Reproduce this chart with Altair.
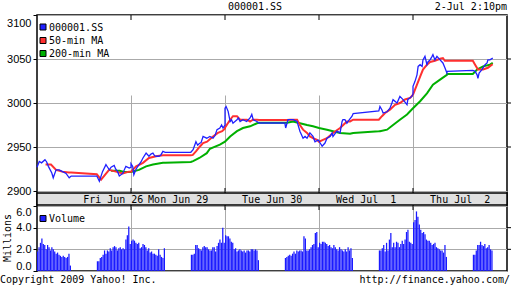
import altair as alt
import pandas as pd

# ---------------- data ----------------
DAYS = ["06-26", "06-29", "06-30", "07-01", "07-02"]
DAY_LABELS = ["Fri Jun 26", "Mon Jun 29", "Tue Jun 30", "Wed Jul\u00a0 1", "Thu Jul\u00a0 2"]
DAY_LABEL_AT = ["06-26 12:12", "06-29 10:30", "06-30 10:30", "07-01 10:30", "07-02 10:30"]
DAY_BOUNDS = ["06-29 09:30", "06-30 09:30", "07-01 09:30", "07-02 09:30"]

PRICE_TICKS = [2900, 2950, 3000, 3050, 3100]
VOL_TICKS = [0, 2, 4, 6]

# 000001.SS price
ss_time = [
    "06-26 09:30", "06-26 09:38", "06-26 09:46", "06-26 09:58", "06-26 10:04", "06-26 10:10",
    "06-26 10:22", "06-26 10:27", "06-26 10:37", "06-26 10:48", "06-26 11:00", "06-26 11:12",
    "06-26 11:23", "06-26 11:30", "06-26 13:00", "06-26 13:09", "06-26 13:20", "06-26 13:32",
    "06-26 13:38", "06-26 13:44", "06-26 13:50", "06-26 14:01", "06-26 14:06", "06-26 14:13",
    "06-26 14:19", "06-26 14:31", "06-26 14:42", "06-26 14:54", "06-26 15:00",
    "06-29 09:30", "06-29 09:36", "06-29 09:40", "06-29 09:48", "06-29 09:58", "06-29 10:05",
    "06-29 10:12", "06-29 10:23", "06-29 10:33", "06-29 10:40", "06-29 10:47", "06-29 10:53",
    "06-29 10:58", "06-29 11:08", "06-29 11:15", "06-29 11:22", "06-29 11:30", "06-29 13:00",
    "06-29 13:08", "06-29 13:18", "06-29 13:24", "06-29 13:30", "06-29 13:36", "06-29 13:43",
    "06-29 13:50", "06-29 13:56", "06-29 14:07", "06-29 14:18", "06-29 14:25", "06-29 14:32",
    "06-29 14:42", "06-29 14:48", "06-29 14:53", "06-29 15:00",
    "06-30 09:30", "06-30 09:34", "06-30 09:41", "06-30 09:48", "06-30 09:53", "06-30 09:58",
    "06-30 10:12", "06-30 10:17", "06-30 10:23", "06-30 10:33", "06-30 10:46", "06-30 10:58",
    "06-30 11:04", "06-30 11:09", "06-30 11:22", "06-30 11:30", "06-30 13:00", "06-30 13:03",
    "06-30 13:11", "06-30 13:29", "06-30 13:43", "06-30 13:53", "06-30 14:04", "06-30 14:11",
    "06-30 14:18", "06-30 14:28", "06-30 14:39", "06-30 14:46", "06-30 14:57", "06-30 15:00",
    "07-01 09:30", "07-01 09:34", "07-01 09:41", "07-01 09:51", "07-01 09:58", "07-01 10:09",
    "07-01 10:16", "07-01 10:19", "07-01 10:33", "07-01 10:44", "07-01 10:51", "07-01 10:54",
    "07-01 11:01", "07-01 11:08", "07-01 11:12", "07-01 11:26", "07-01 11:30", "07-01 13:00",
    "07-01 13:04", "07-01 13:11", "07-01 13:15", "07-01 13:29", "07-01 13:39", "07-01 13:46",
    "07-01 13:50", "07-01 14:04", "07-01 14:14", "07-01 14:25", "07-01 14:39", "07-01 14:42",
    "07-01 14:56", "07-01 15:00",
    "07-02 09:30", "07-02 09:37", "07-02 09:44", "07-02 09:48", "07-02 09:55", "07-02 10:02",
    "07-02 10:05", "07-02 10:12", "07-02 10:19", "07-02 10:23", "07-02 10:30", "07-02 10:37",
    "07-02 10:40", "07-02 10:47", "07-02 10:54", "07-02 11:05", "07-02 11:15", "07-02 11:22",
    "07-02 11:29", "07-02 11:30", "07-02 13:00", "07-02 13:08", "07-02 13:15", "07-02 13:18",
    "07-02 13:22", "07-02 13:32", "07-02 13:43", "07-02 13:50", "07-02 13:53", "07-02 14:00",
    "07-02 14:10",
]
ss_val = [
    2927, 2933.6, 2932, 2935.6, 2933, 2928,
    2920.5, 2915, 2924, 2924, 2922, 2920,
    2915, 2917, 2917, 2911, 2922, 2930,
    2927, 2924, 2927, 2929, 2925, 2922,
    2917, 2920, 2928, 2926, 2927,
    2931, 2928, 2918.5, 2925, 2930, 2933,
    2937.5, 2943, 2939.5, 2942, 2943, 2940,
    2939.5, 2939.5, 2941, 2945, 2944, 2944,
    2947, 2956, 2952, 2954, 2955, 2962,
    2961, 2960, 2962, 2960, 2963, 2969.7,
    2971.6, 2975, 2971.6, 2975,
    2994, 2996, 2990.5, 2979, 2981, 2977,
    2981, 2983, 2979, 2981, 2979, 2983,
    2987, 2981, 2979, 2977.3, 2977.3, 2971.6,
    2981, 2981, 2979, 2968, 2960, 2962,
    2960, 2966, 2962, 2956, 2958, 2957,
    2957, 2954.5, 2951, 2954.5, 2960, 2962,
    2966, 2962, 2968, 2966, 2979, 2981,
    2981, 2977, 2979, 2985, 2988, 2991,
    2996, 2992, 2988.6, 2990, 2994, 3000,
    3003.8, 3000, 3007.5, 3003.8, 2998, 3004,
    3007.5, 3010,
    3019, 3024.6, 3032, 3041.6, 3043.5, 3041.6,
    3049, 3053, 3043.5, 3047, 3049, 3053,
    3055, 3049, 3053, 3049, 3045.5, 3040,
    3034, 3036, 3037, 3036, 3032, 3028,
    3034, 3038, 3043.5, 3045.5, 3049, 3049,
    3051,
]

# 50-min moving average
ma50_time = [
    "06-26 10:00", "06-26 10:19", "06-26 10:37", "06-26 10:58", "06-26 11:22", "06-26 11:30",
    "06-26 13:00", "06-26 13:15", "06-26 13:43", "06-26 14:07", "06-26 14:31", "06-26 14:53",
    "06-26 15:00",
    "06-29 09:30", "06-29 09:48", "06-29 10:12", "06-29 10:33", "06-29 10:58", "06-29 11:22",
    "06-29 11:30", "06-29 13:00", "06-29 13:07", "06-29 13:18", "06-29 13:32", "06-29 13:43",
    "06-29 13:57", "06-29 14:18", "06-29 14:35", "06-29 14:50", "06-29 15:00",
    "06-30 09:30", "06-30 09:48", "06-30 09:58", "06-30 10:12", "06-30 10:23", "06-30 10:47",
    "06-30 10:58", "06-30 11:08", "06-30 11:22", "06-30 11:30", "06-30 13:00", "06-30 13:08",
    "06-30 13:18", "06-30 13:43", "06-30 13:53", "06-30 14:04", "06-30 14:18", "06-30 14:28",
    "06-30 14:39", "06-30 14:53", "06-30 15:00",
    "07-01 09:30", "07-01 09:44", "07-01 09:58", "07-01 10:19", "07-01 10:44", "07-01 11:08",
    "07-01 11:19", "07-01 11:30", "07-01 13:00", "07-01 13:11", "07-01 13:22", "07-01 13:39",
    "07-01 13:57", "07-01 14:14", "07-01 14:32", "07-01 14:50", "07-01 15:00",
    "07-02 09:30", "07-02 09:44", "07-02 09:55", "07-02 10:05", "07-02 10:19", "07-02 10:30",
    "07-02 10:47", "07-02 11:05", "07-02 11:15", "07-02 11:22", "07-02 11:30", "07-02 13:00",
    "07-02 13:08", "07-02 13:18", "07-02 13:36", "07-02 13:53", "07-02 14:07", "07-02 14:10",
]
ma50_val = [
    2930, 2930, 2924, 2922, 2921, 2921,
    2919, 2913, 2924, 2922, 2920, 2922,
    2922,
    2922, 2928, 2932, 2937.5, 2939.5, 2940.5,
    2940.5, 2940.5, 2941, 2945, 2950.6, 2954.5,
    2956, 2962, 2966, 2968, 2971,
    2972, 2981, 2985, 2985, 2981, 2981,
    2979, 2981, 2981, 2980.7, 2980.7, 2980.7,
    2981, 2981, 2975, 2969.7, 2966, 2962,
    2960, 2958, 2956,
    2956, 2958, 2960, 2966, 2971.6, 2979,
    2979, 2981, 2981, 2985, 2988.6, 2992.4,
    2998, 3000, 3004, 3005.7, 3009.4,
    3009.4, 3020.8, 3030, 3038, 3043.5, 3046.6,
    3048, 3050.3, 3051, 3048, 3048, 3048,
    3043.5, 3038, 3038, 3040, 3043.5, 3044,
]

# 200-min moving average
ma200_time = [
    "06-26 13:50", "06-26 14:20", "06-26 14:35", "06-26 15:00",
    "06-29 09:30", "06-29 09:58", "06-29 10:23", "06-29 10:47", "06-29 11:22", "06-29 11:30",
    "06-29 13:00", "06-29 13:08", "06-29 13:30", "06-29 13:56", "06-29 14:07", "06-29 14:42",
    "06-29 15:00",
    "06-30 09:48", "06-30 10:12", "06-30 10:33", "06-30 10:58", "06-30 11:22", "06-30 11:30",
    "06-30 13:00", "06-30 13:08", "06-30 13:29", "06-30 13:53", "06-30 14:18", "06-30 14:39",
    "06-30 15:00",
    "07-01 09:58", "07-01 10:19", "07-01 10:44", "07-01 11:19", "07-01 11:30", "07-01 13:00",
    "07-01 13:04", "07-01 13:29", "07-01 13:50", "07-01 14:14", "07-01 14:39", "07-01 15:00",
    "07-02 09:55", "07-02 10:19", "07-02 10:40", "07-02 11:05", "07-02 11:29", "07-02 11:30",
    "07-02 13:00", "07-02 13:15", "07-02 13:36", "07-02 14:00", "07-02 14:10",
]
ma200_val = [
    2923, 2923, 2921.5, 2921.5,
    2921.5, 2924, 2928, 2930, 2932, 2932,
    2933, 2934, 2937.5, 2943, 2948, 2952.6,
    2956,
    2962, 2968, 2971.6, 2973.5, 2977, 2977.6,
    2977.6, 2977.6, 2979, 2977, 2975, 2973.5,
    2971.6,
    2969.7, 2968, 2966, 2965, 2966, 2967.8,
    2968, 2969.7, 2975, 2981, 2987, 2994,
    3002, 3011, 3020.8, 3026.5, 3032, 3033,
    3033, 3038, 3041.6, 3043.5, 3045.5,
]

# Volume (millions), 5-minute bars: 24 in the morning, 24 in the afternoon
vol_0626 = [1.8, 2.2, 2.6, 3.0, 2.5, 2.4, 2.0, 2.4, 2.2, 1.9, 2.2, 2.0, 1.8, 1.6, 1.7, 1.5,
            1.4, 1.3, 1.4, 1.3, 1.2, 1.3, 1.6, 0.5,
            0.9, 0.9, 1.2, 1.3, 1.5, 1.9, 1.6, 1.9, 1.8, 2.1, 1.9, 2.2, 2.3, 2.2, 1.9, 2.1,
            2.2, 2.0, 2.1, 2.0, 2.9, 3.3, 4.1, 2.5]
vol_0629 = [2.8, 2.9, 2.8, 2.6, 2.5, 2.6, 2.1, 2.2, 2.5, 2.4, 2.2, 1.9, 2.1, 1.7, 1.8, 1.6,
            1.6, 1.5, 1.4, 2.0, 1.5, 1.3, 1.2, 2.1,
            1.5, 1.5, 1.6, 2.4, 2.4, 2.1, 2.0, 1.9, 2.2, 2.3, 2.2, 2.2, 2.0, 1.9, 1.9, 2.2,
            2.2, 1.8, 2.3, 2.6, 2.9, 2.6, 4.0, 2.6]
vol_0630 = [3.3, 3.2, 3.2, 3.0, 2.7, 2.6, 2.0, 2.1, 1.8, 1.9, 2.0, 1.9, 1.8, 1.9, 1.7, 1.9,
            1.9, 1.8, 2.0, 2.0, 1.9, 2.0, 1.9, 1.0,
            1.2, 1.3, 1.4, 1.5, 1.4, 1.6, 1.8, 1.6, 1.9, 1.8, 1.9, 1.9, 1.8, 3.2, 3.0, 1.9,
            1.9, 2.0, 2.2, 2.4, 2.5, 3.5, 3.6, 2.2]
vol_0701 = [2.6, 2.5, 2.7, 2.7, 2.6, 2.5, 2.3, 2.4, 2.2, 2.1, 2.4, 2.2, 2.0, 1.9, 2.2, 2.0,
            1.9, 1.8, 2.0, 1.8, 2.2, 1.9, 2.1, 1.2,
            1.9, 1.9, 2.1, 2.4, 1.8, 2.6, 1.9, 2.9, 3.5, 2.2, 2.6, 2.2, 2.7, 2.6, 2.2, 2.5,
            2.8, 2.5, 2.9, 3.6, 3.8, 2.7, 2.6, 2.5]
vol_0702 = [4.5, 4.7, 5.5, 5.0, 4.3, 3.8, 3.5, 3.6, 3.4, 2.9, 2.8, 2.8, 2.6, 2.4, 2.5, 2.6,
            2.2, 2.1, 2.0, 1.9, 1.9, 1.7, 2.4, 1.3,
            1.5, 1.5, 1.9, 2.4, 2.4, 2.7, 2.4, 2.3, 2.5, 2.1, 2.2, 2.4, 2.0, 1.9]
VOLUMES = [vol_0626, vol_0629, vol_0630, vol_0701, vol_0702]

# ---------------- helpers ----------------
DAY_SPAN = 330  # 09:30 -> 15:00 in minutes


def to_pos(stamp):
    d, t = stamp.split()
    h, m = (int(p) for p in t.split(":"))
    return DAYS.index(d) * DAY_SPAN + h * 60 + m - 570


def series(times, vals):
    return pd.DataFrame({"pos": [to_pos(s) for s in times], "v": vals})


vol_rows = []
bar_ends = [9 * 60 + 35 + 5 * i for i in range(24)] + [13 * 60 + 5 + 5 * i for i in range(24)]
for di, vols in enumerate(VOLUMES):
    for end, v in zip(bar_ends, vols):
        p = di * DAY_SPAN + end - 570
        vol_rows.append({"p0": p - 5, "p1": p - 0.6, "vol": v})
vol_df = pd.DataFrame(vol_rows)

bounds_df = pd.DataFrame({"pos": [to_pos(s) for s in DAY_BOUNDS]})
labels_df = pd.DataFrame({"pos": [to_pos(s) for s in DAY_LABEL_AT], "label": DAY_LABELS})

# ---------------- styles ----------------
W, H = 470, 256
MONO = "DejaVu Sans Mono"
SANS = "Liberation Sans"
BLUE, RED, GREEN = "#2020ff", "#ff3030", "#00b000"
GRID = "#aaaaaa"

x_scale = alt.Scale(domain=[0, 5 * DAY_SPAN], nice=False, zero=False)
x_axis = alt.Axis(values=[to_pos(s) for s in DAY_BOUNDS], grid=True, gridColor=GRID,
                  labels=False, ticks=False, domain=False, title=None)
price_scale = alt.Scale(domain=[2900, 3100], range=[176, 0], nice=False, zero=False)
price_axis = alt.Axis(orient="left", values=PRICE_TICKS, format="d", grid=True, gridColor=GRID,
                      domain=False, tickColor="black", tickSize=4, labelPadding=2,
                      labelFont=SANS, labelFontSize=11, labelColor="black", title=None,
                      labelOffset={"condition": {"test": "datum.value == 3100", "value": 8},
                                   "value": 0})
vol_scale = alt.Scale(domain=[0, 6], range=[256, 191], nice=False)
vol_axis = alt.Axis(orient="left", values=VOL_TICKS, format=".1f", grid=True, gridColor=GRID,
                    domain=False, tickColor="black", tickSize=4, labelPadding=2,
                    labelFont=SANS, labelFontSize=11, labelColor="black", labelFlush=True,
                    title=None)


def X(field="pos"):
    return alt.X(f"{field}:Q", scale=x_scale, axis=x_axis)


def Yp(field="v"):
    return alt.Y(f"{field}:Q", scale=price_scale, axis=price_axis)


def line(times, vals, color, width):
    return alt.Chart(series(times, vals)).mark_line(
        color=color, strokeWidth=width, interpolate="linear").encode(x=X(), y=Yp())


one = pd.DataFrame({"k": [0]})

price_right_ticks = alt.Chart(pd.DataFrame({"v": PRICE_TICKS[1:-1]})).mark_rule(
    color="black").encode(y=Yp(), x=alt.value(W), x2=alt.value(W + 4))

price_layer = alt.layer(
    line(ma200_time, ma200_val, GREEN, 2),
    line(ma50_time, ma50_val, RED, 2),
    line(ss_time, ss_val, BLUE, 1.3),
    price_right_ticks,
)

bars = alt.Chart(vol_df).mark_rect(color="#1a1aff").encode(
    x=X("p0"), x2="p1:Q",
    y=alt.Y("vol:Q", scale=vol_scale, axis=vol_axis),
    y2=alt.datum(0),
)
vol_right_ticks = alt.Chart(pd.DataFrame({"vol": [2, 4]})).mark_rule(color="black").encode(
    y=alt.Y("vol:Q", scale=vol_scale, axis=vol_axis), x=alt.value(W), x2=alt.value(W + 4))
vol_layer = alt.layer(bars, vol_right_ticks)

band = alt.Chart(one).mark_rect(fill="#e0e0e0", stroke="black", strokeWidth=1.5).encode(
    x=alt.value(0), x2=alt.value(W), y=alt.value(178), y2=alt.value(190))

day_text = alt.Chart(labels_df).mark_text(
    align="left", baseline="middle", font=MONO, fontSize=10, color="black").encode(
    x=X(), y=alt.value(184.5), text="label:N")


def vticks(y0, y1):
    return alt.Chart(bounds_df).mark_rule(color="black", strokeWidth=1).encode(
        x=X(), y=alt.value(y0), y2=alt.value(y1))


def label(txt, x, y, align="left", angle=0, font=MONO, size=10):
    kw = dict(align=align, baseline="middle", font=font, fontSize=size, color="black",
              text=txt)
    if angle:
        kw["angle"] = angle
    return alt.Chart(one).mark_text(**kw).encode(x=alt.value(x), y=alt.value(y))


def swatch(color, x, y):
    return alt.Chart(one).mark_square(size=36, fill=color, fillOpacity=1, stroke="black",
                                      strokeWidth=1, opacity=1).encode(
        x=alt.value(x), y=alt.value(y))


chart = alt.layer(
    price_layer,
    vol_layer,
    band,
    day_text,
    vticks(0, 5), vticks(173, 178), vticks(190, 195),
    label("000001.SS", 218, -8, align="center"),
    label("2-Jul 2:10pm", 470, -8, align="right"),
    swatch(BLUE, 6, 12), label("000001.SS", 12, 12.5),
    swatch(RED, 6, 25.5), label("50-min MA", 12, 26),
    swatch(GREEN, 6, 38.5), label("200-min MA", 12, 39),
    swatch(BLUE, 6, 203.5), label("Volume", 12, 204),
    label("Millions", -29.5, 223, align="center", angle=270),
    label("Copyright 2009 Yahoo! Inc.", -37, 265),
    label("http://finance.yahoo.com/", 473, 265, align="right"),
).resolve_scale(y="independent").properties(
    width=W, height=H,
    autosize=alt.AutoSizeParams(type="none"),
    padding={"left": 37, "top": 15, "right": 5, "bottom": 17},
    background="white",
).configure_view(stroke="black", strokeWidth=1.5)

chart.save("out.html", embed_options={"renderer": "svg", "actions": False})
